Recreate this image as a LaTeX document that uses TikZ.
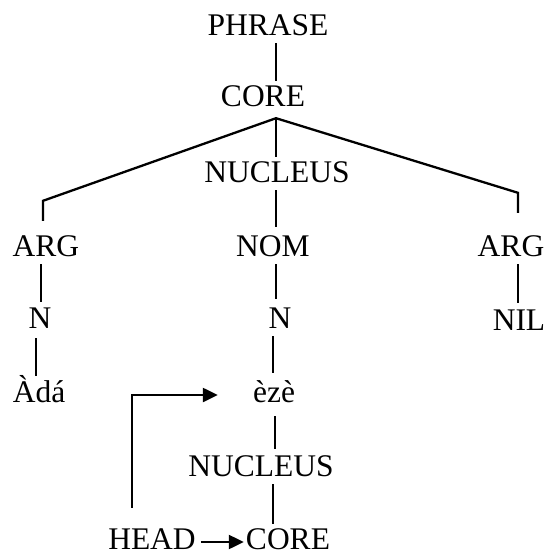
\documentclass[tikz,border=0pt]{standalone}
\usepackage{fontspec}
\setmainfont{Liberation Serif}
\usetikzlibrary{arrows.meta}
\begin{document}
\begin{tikzpicture}[x=1pt,y=-1pt,
  lbl/.style={font=\fontsize{31.5}{31.5}\selectfont, anchor=base, inner xsep=0pt, inner ysep=8pt, text height=21pt, text depth=0pt},
  lowlbl/.style={lbl, inner ysep=4pt},
  edge/.style={line width=2.3pt},
  pointer/.style={line width=2.3pt, -{Triangle[length=15pt,width=14pt]}}]
\useasboundingbox (0,0) rectangle (546,555);
\node[lbl] (phrase) at (268,35) {PHRASE};
\node[lbl] (core1) at (263,106) {CORE};
\node[lbl] (nuc1) at (277,182) {NUCLEUS};
\node[lbl] (argl) at (46,256) {ARG};
\node[lbl] (nom) at (273,256) {NOM};
\node[lbl] (argr) at (511,256) {ARG};
\node[lbl] (nl) at (40,328) {N};
\node[lbl] (nm) at (280,328) {N};
\node[lbl] (nil) at (519,330) {NIL};
\node[lbl] (ada) at (39,402) {Àdá};
\node[lbl] (eze) at (274,402) {èzè};
\node[lbl] (nuc2) at (261,476) {NUCLEUS};
\node[lowlbl] (head) at (152,549) {HEAD};
\node[lowlbl] (core2) at (288,549) {CORE};
% tree edges
\draw[edge] ([xshift=8pt]phrase.south) -- ([xshift=13pt,yshift=-4pt]core1.north);
\draw[edge] ([xshift=13pt,yshift=-3pt]core1.south) -- ([xshift=-1pt,yshift=-4pt]nuc1.north);
\draw[edge] ([xshift=13pt,yshift=-4pt]core1.south) -- ([xshift=-3pt,yshift=26pt]argl.north) -- ([xshift=-3pt,yshift=6pt]argl.north);
\draw[edge] ([xshift=13pt,yshift=-4pt]core1.south) -- ([xshift=7pt,yshift=34pt]argr.north) -- ([xshift=7pt,yshift=14pt]argr.north);
\draw[edge] ([xshift=-1pt]nuc1.south) -- ([xshift=3pt]nom.north);
\draw[edge] ([xshift=-5pt]argl.south) -- ([xshift=1pt,yshift=-3pt]nl.north);
\draw[edge] ([xshift=3pt]nom.south) -- ([xshift=-4pt]nm.north);
\draw[edge] ([xshift=7pt]argr.south) -- ([xshift=-1pt,yshift=-2pt]nil.north);
\draw[edge] ([xshift=-4pt,yshift=-2pt]nl.south) -- ([xshift=-3pt,yshift=-3pt]ada.north);
\draw[edge] ([xshift=-7pt]nm.south) -- ([xshift=-1pt]eze.north);
\draw[edge] ([xshift=1pt,yshift=-6pt]eze.south) -- ([xshift=14pt,yshift=-2pt]nuc2.north);
\draw[edge] ([xshift=12pt]nuc2.south) -- ([xshift=-15pt]core2.north);
% arrows
\draw[pointer] ([xshift=-20pt,yshift=16pt]head.north) |- ([xshift=-35pt,yshift=7pt]eze.base west);
\draw[pointer] ([xshift=5pt,yshift=7pt]head.base east) -- ([xshift=-2pt,yshift=7pt]core2.base west);
\end{tikzpicture}
\end{document}
